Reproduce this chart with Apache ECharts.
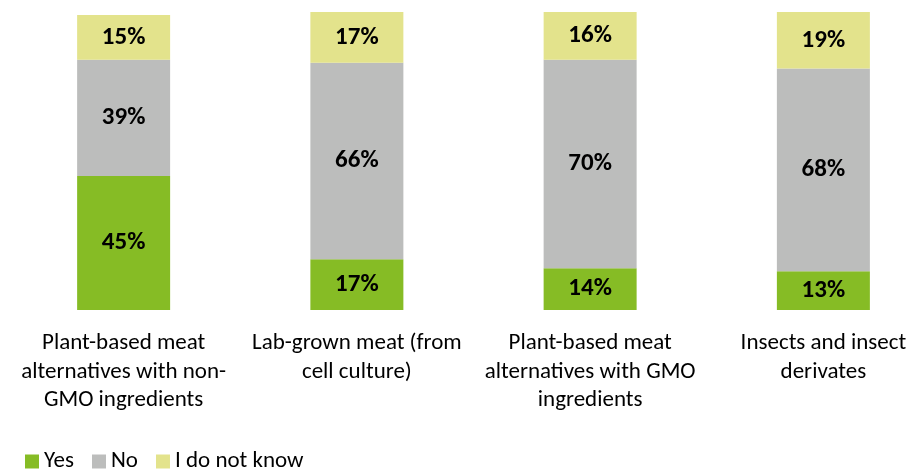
<!DOCTYPE html>
<html>
<head>
<meta charset="utf-8">
<style>
  html, body { margin: 0; padding: 0; background: #fff; }
  #chart { width: 914px; height: 469px; }
</style>
<script src="https://cdn.jsdelivr.net/npm/echarts@6/dist/echarts.min.js"></script>
</head>
<body>
<div id="chart"></div>
<script>
// Survey answers per food type, in percent
const categories = [
  'Plant-based meat\nalternatives with non-\nGMO ingredients',
  'Lab-grown meat (from\ncell culture)',
  'Plant-based meat\nalternatives with GMO\ningredients',
  'Insects and insect\nderivates'
];
const yesValues = [45, 17, 14, 13];
const noValues = [39, 66, 70, 68];
const dontKnowValues = [15, 17, 16, 19];
const seriesNames = ['Yes', 'No', 'I do not know'];

const colors = ['#86bc25', '#bcbdbc', '#e3e38c'];
const fontFamily = 'Carlito, Calibri, "Open Sans", "Noto Sans", sans-serif';

function barSeries(name, values, color) {
  return {
    name: name,
    type: 'bar',
    stack: 'total',
    barWidth: 93,
    data: values,
    itemStyle: { color: color },
    label: {
      show: true,
      position: 'inside',
      formatter: '{c}%',
      color: '#000',
      fontWeight: 'bold',
      fontSize: 25,
      fontFamily: fontFamily
    },
    emphasis: { disabled: true }
  };
}

const chart = echarts.init(document.getElementById('chart'), null, { renderer: 'canvas' });
chart.setOption({
  animation: false,
  grid: {
    left: 7,
    top: 12,
    width: 933,
    bottom: 159,
    containLabel: false,
    outerBoundsMode: 'none'
  },
  legend: {
    left: 20,
    top: 445,
    itemWidth: 14,
    itemHeight: 14,
    itemGap: 18,
    icon: 'rect',
    textStyle: { fontSize: 23, color: '#000', fontFamily: fontFamily },
    data: seriesNames
  },
  xAxis: {
    type: 'category',
    data: categories,
    axisLine: { show: false },
    axisTick: { show: false },
    axisLabel: {
      interval: 0,
      margin: 19,
      fontSize: 23,
      lineHeight: 28.5,
      color: '#000',
      align: 'center',
      hideOverlap: false,
      fontFamily: fontFamily
    }
  },
  yAxis: {
    type: 'value',
    min: 0,
    max: 100,
    show: false
  },
  series: [
    barSeries(seriesNames[0], yesValues, colors[0]),
    barSeries(seriesNames[1], noValues, colors[1]),
    barSeries(seriesNames[2], dontKnowValues, colors[2])
  ]
});
</script>
</body>
</html>
